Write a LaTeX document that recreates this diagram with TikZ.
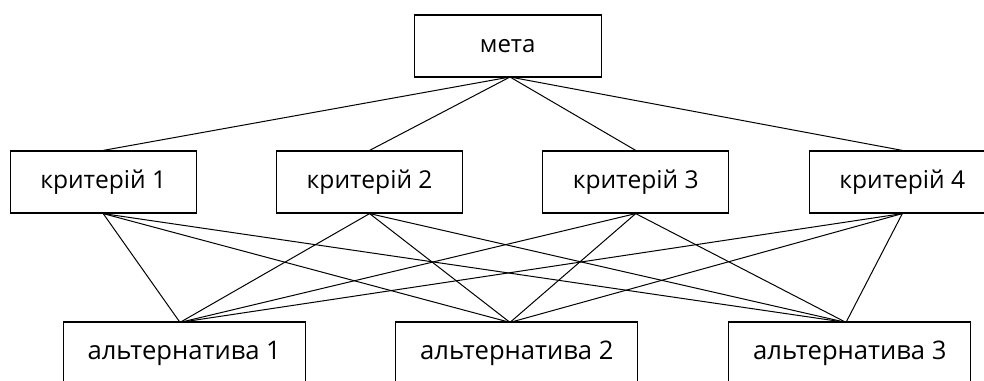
\documentclass[tikz,border=0pt]{standalone}
\usepackage{fontspec}
\setmainfont{Open Sans}
\begin{document}
\begin{tikzpicture}[x=1pt,y=-1pt,
  box/.style={draw, line width=1.2pt, inner sep=0pt, font=\fontsize{24}{28}\selectfont},
  critbox/.style={box, minimum width=186pt, minimum height=62pt, font=\fontsize{24.6}{29}\selectfont},
  altbox/.style={box, minimum width=242pt, minimum height=62pt, font=\fontsize{25.6}{30}\selectfont},
  link/.style={line width=1pt}]
\useasboundingbox (0,0) rectangle (984,380);
\fill[white] (0,0) rectangle (984,380);
\node[box, minimum width=187pt, minimum height=62pt] (m) at (507.7,46) {мета};
\node[critbox] (c1) at (103.2,182) {критерій 1};
\node[critbox] (c2) at (369.6,182) {критерій 2};
\node[critbox] (c3) at (635.7,182) {критерій 3};
\node[critbox] (c4) at (902.3,182) {критерій 4};
\node[altbox] (a1) at (184.2,353) {альтернатива 1};
\node[altbox] (a2) at (516.8,353) {альтернатива 2};
\node[altbox] (a3) at (849.8,353) {альтернатива 3};
\coordinate (mb) at (510,77);
\coordinate (a1t) at (180,322.4);
\coordinate (a2t) at (510,322.4);
\coordinate (a3t) at (846,322.4);
\foreach \c in {c1,c2,c3,c4}{
  \draw[link] (mb) -- (\c.north);
  \foreach \a in {a1t,a2t,a3t}{
    \draw[link] (\c.south) -- (\a);
  }
}
\end{tikzpicture}
\end{document}
